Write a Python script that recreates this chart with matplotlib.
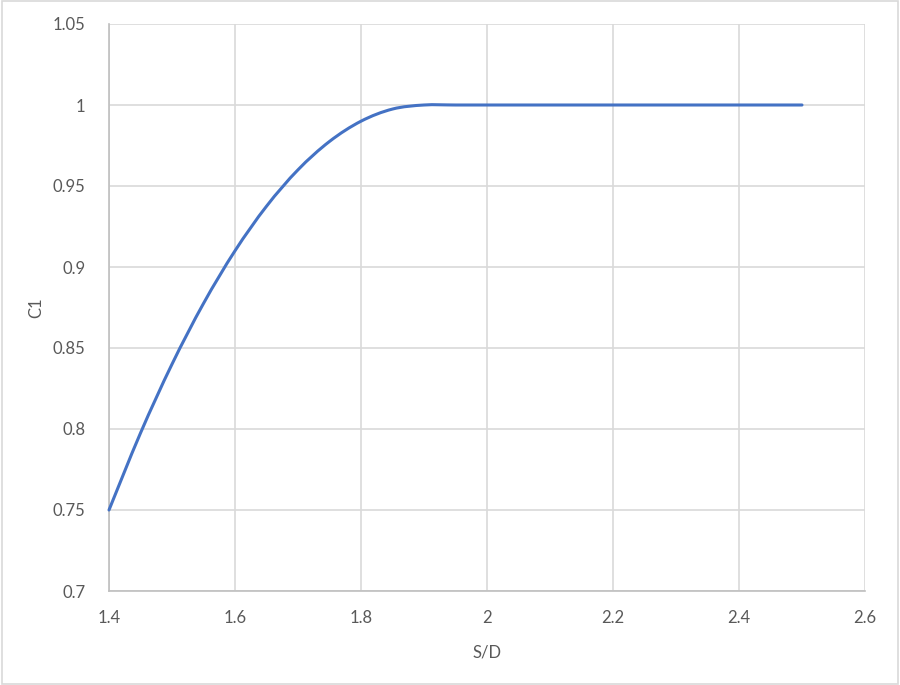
import matplotlib
matplotlib.use("Agg")
import matplotlib.pyplot as plt
from matplotlib.path import Path
from matplotlib.patches import PathPatch, Rectangle

# data
sd = [1.4, 1.45, 1.5, 1.55, 1.6, 1.65, 1.7, 1.75, 1.8, 1.85, 1.9, 1.95,
      2.0, 2.1, 2.2, 2.3, 2.4, 2.5]
c1 = [0.75, 0.7975, 0.84, 0.8775, 0.91, 0.9375, 0.96, 0.9775, 0.99, 0.9975, 1.0, 1.0,
      1.0, 1.0, 1.0, 1.0, 1.0, 1.0]
x_ticks = [1.4, 1.6, 1.8, 2.0, 2.2, 2.4, 2.6]
x_labels = ["1.4", "1.6", "1.8", "2", "2.2", "2.4", "2.6"]
y_ticks = [0.7, 0.75, 0.8, 0.85, 0.9, 0.95, 1.0, 1.05]
y_labels = ["0.7", "0.75", "0.8", "0.85", "0.9", "0.95", "1", "1.05"]

plt.rcParams['font.family'] = ['Lato', 'DejaVu Sans']
fig = plt.figure(figsize=(9, 6.85), dpi=100)
fig.patches.append(Rectangle((0.002, 0.002), 0.996, 0.996, transform=fig.transFigure,
                             fill=False, edgecolor='#d9d9d9', linewidth=1.2))
ax = fig.add_axes([109/900, 1-591/685, (865-109)/900, (591-24)/685])

# Excel-style smoothed line (Bezier through data points)
n = len(sd)
verts = [(sd[0], c1[0])]
codes = [Path.MOVETO]
for i in range(n - 1):
    p0 = (sd[max(i-1, 0)], c1[max(i-1, 0)])
    p1 = (sd[i], c1[i])
    p2 = (sd[i+1], c1[i+1])
    p3 = (sd[min(i+2, n-1)], c1[min(i+2, n-1)])
    cp1 = (p1[0] + (p2[0]-p0[0])/6, p1[1] + (p2[1]-p0[1])/6)
    cp2 = (p2[0] - (p3[0]-p1[0])/6, p2[1] - (p3[1]-p1[1])/6)
    verts += [cp1, cp2, p2]
    codes += [Path.CURVE4]*3
ax.add_patch(PathPatch(Path(verts, codes), fill=False, edgecolor='#4472C4',
                       linewidth=2.2, capstyle='round', zorder=3, clip_on=False))

ax.set_xlim(1.4, 2.6)
ax.set_ylim(0.7, 1.05)
ax.set_xticks(x_ticks)
ax.set_xticklabels(x_labels)
ax.set_yticks(y_ticks)
ax.set_yticklabels(y_labels)
ax.grid(True, color='#d9d9d9', linewidth=1.2)
ax.set_axisbelow(True)
for s in ['top', 'right']:
    ax.spines[s].set_visible(False)
for s in ['left', 'bottom']:
    ax.spines[s].set_color('#bfbfbf')
    ax.spines[s].set_linewidth(1.2)
ax.tick_params(length=0, labelsize=12, labelcolor='#595959', pad=14)
ax.tick_params(axis='y', pad=17)
ax.set_xlabel("S/D", fontsize=12, color='#595959', labelpad=13)
ax.set_ylabel("C1", fontsize=12, color='#595959', labelpad=6)

fig.savefig("out.png", dpi=100)
